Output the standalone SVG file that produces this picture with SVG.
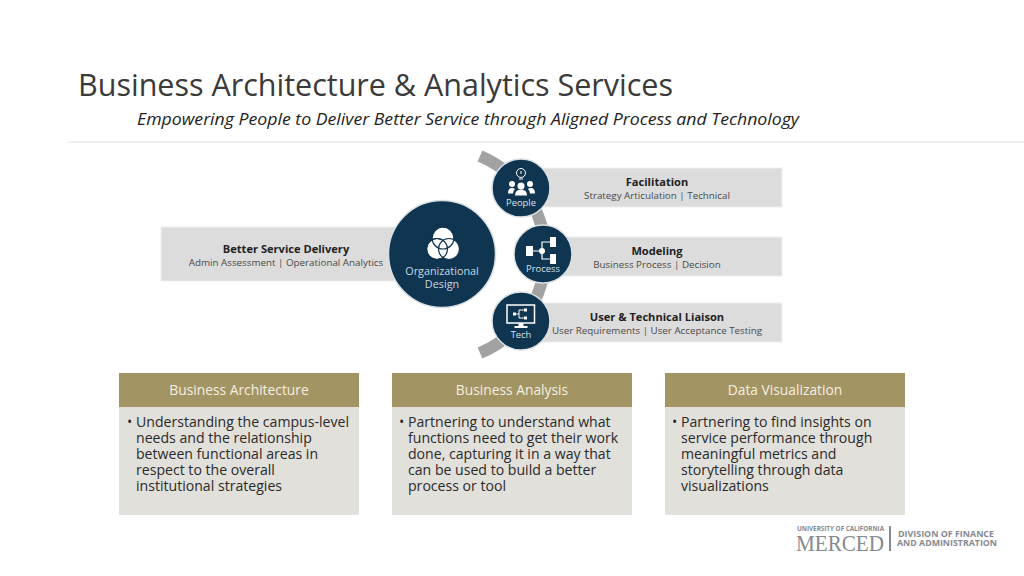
<svg xmlns="http://www.w3.org/2000/svg" width="1024" height="576" viewBox="0 0 1024 576">
<style>
text{font-family:"Open Sans","Noto Sans","Liberation Sans",sans-serif}
.band{fill:#dcdcdc;stroke:#efefef;stroke-width:1}
.dk{fill:#0f3550;stroke:#d9dfe3;stroke-width:1.5}
.ttl{font-size:11.1px;font-weight:700;fill:#222;text-anchor:middle}
.sub{font-size:9.8px;fill:#4a4a4a;text-anchor:middle}
.wl{font-size:9.4px;fill:#d5e2ea;text-anchor:middle}
.ol{font-size:10.8px;fill:#c9d9e3;text-anchor:middle}
.ic{fill:#fff;stroke:none}
.il{fill:none;stroke:#fff;stroke-width:1.5}
.hd{fill:#a39463}
.bd{fill:#e2e0da}
.ht{font-size:13.8px;fill:#f3efe2;text-anchor:middle}
.bt{font-size:14.1px;fill:#2a2a2a}
</style>
<rect width="1024" height="576" fill="#fff"/>
<text x="78" y="96" font-size="30.5" fill="#3a3a3a" textLength="595" lengthAdjust="spacingAndGlyphs">Business Architecture &amp; Analytics Services</text>
<text x="137" y="125" font-size="17" font-style="italic" fill="#222" textLength="662" lengthAdjust="spacingAndGlyphs">Empowering People to Deliver Better Service through Aligned Process and Technology</text>
<rect x="68" y="141" width="956" height="2" fill="#f0f0f0"/>

<g id="connectors">
<path d="M480 156A107 107 0 0 1 480 353" fill="none" stroke="#a2a2a2" stroke-width="12"/>
</g>

<g id="band-service"><rect class="band" x="161" y="227" width="250" height="54"/>
<text class="ttl" x="286" y="253">Better Service Delivery</text>
<text class="sub" x="286" y="266">Admin Assessment | Operational Analytics</text></g>
<g id="band-facilitation"><rect class="band" x="530" y="168" width="252" height="39"/>
<text class="ttl" x="657" y="186">Facilitation</text>
<text class="sub" x="657" y="199">Strategy Articulation | Technical</text></g>
<g id="band-modeling"><rect class="band" x="550" y="237" width="232" height="39"/>
<text class="ttl" x="657" y="255">Modeling</text>
<text class="sub" x="657" y="268">Business Process | Decision</text></g>
<g id="band-liaison"><rect class="band" x="530" y="303" width="252" height="39"/>
<text class="ttl" x="657" y="321">User &amp; Technical Liaison</text>
<text class="sub" x="657" y="334">User Requirements | User Acceptance Testing</text></g>

<g id="node-org"><circle class="dk" cx="442" cy="254" r="53.500"/>
<g fill="#fff" stroke="#0f3550" stroke-width="1.2"><circle cx="443" cy="238" r="11"/><circle cx="437" cy="249" r="10.500"/><circle cx="449" cy="249" r="10.500"/></g>
<g fill="none" stroke="#0f3550" stroke-width="1.2"><circle cx="443" cy="238" r="11"/><circle cx="437" cy="249" r="10.500"/></g>
<text class="ol" x="442" y="275">Organizational</text>
<text class="ol" x="442" y="288">Design</text></g>

<g id="node-people"><circle class="dk" cx="521" cy="188" r="29"/>
<circle cx="521" cy="173" r="4.500" fill="none" stroke="#fff" stroke-width="1"/>
<path d="M519 179h4M521 171v3" stroke="#fff" stroke-width="1" fill="none"/>
<g class="ic"><circle cx="521" cy="186" r="3.500"/><circle cx="512" cy="184" r="3"/><circle cx="530" cy="184" r="3"/>
<path d="M515 195.500q0-6 6-6t6 6zM508 193.500q0-5.500 4-5.500 2 0 3 1-2 2-2 4.500zM535 193.500q0-5.500-4-5.500-2 0-3 1 2 2 2 4.500z"/></g>
<text class="wl" x="521" y="206">People</text></g>

<g id="node-process"><circle class="dk" cx="543" cy="254" r="29"/>
<g class="ic"><rect x="526" y="246" width="7" height="10"/><rect x="550" y="237" width="6" height="10"/><rect x="550" y="254" width="6" height="10"/><circle cx="542" cy="251" r="3"/></g>
<path class="il" d="M533 251h9M542 251v-9h8M542 251v8h8" style="stroke-width:1.200"/>
<text class="wl" x="543" y="272">Process</text></g>

<g id="node-tech"><circle class="dk" cx="521" cy="321" r="29"/>
<rect x="507" y="305" width="27.500" height="18" fill="none" stroke="#fff" stroke-width="1.500"/>
<path class="ic" d="M518.500 323h5v3h4v2h-13v-2h4z"/>
<path d="M514 314h5M519 314v-4h6M519 314v4h6" fill="none" stroke="#fff" stroke-width="1"/>
<rect class="ic" x="513" y="312.500" width="3" height="3"/><rect class="ic" x="524" y="308.500" width="3" height="3"/><rect class="ic" x="524" y="316.500" width="3" height="3"/>
<text class="wl" x="521" y="338">Tech</text></g>

<g id="card-architecture"><rect class="bd" x="119" y="407" width="240" height="108"/><rect class="hd" x="119" y="373" width="240" height="34"/>
<text class="ht" x="239" y="395">Business Architecture</text>
<text class="bt" x="127" y="427">•</text>
<text class="bt"><tspan x="136" y="427">Understanding the campus-level</tspan><tspan x="136" y="443">needs and the relationship</tspan><tspan x="136" y="459">between functional areas in</tspan><tspan x="136" y="475">respect to the overall</tspan><tspan x="136" y="491">institutional strategies</tspan></text></g>

<g id="card-analysis"><rect class="bd" x="392" y="407" width="240" height="108"/><rect class="hd" x="392" y="373" width="240" height="34"/>
<text class="ht" x="512" y="395">Business Analysis</text>
<text class="bt" x="399" y="427">•</text>
<text class="bt"><tspan x="408" y="427">Partnering to understand what</tspan><tspan x="408" y="443">functions need to get their work</tspan><tspan x="408" y="459">done, capturing it in a way that</tspan><tspan x="408" y="475">can be used to build a better</tspan><tspan x="408" y="491">process or tool</tspan></text></g>

<g id="card-visualization"><rect class="bd" x="665" y="407" width="240" height="108"/><rect class="hd" x="665" y="373" width="240" height="34"/>
<text class="ht" x="785" y="395">Data Visualization</text>
<text class="bt" x="672" y="427">•</text>
<text class="bt"><tspan x="681" y="427">Partnering to find insights on</tspan><tspan x="681" y="443">service performance through</tspan><tspan x="681" y="459">meaningful metrics and</tspan><tspan x="681" y="475">storytelling through data</tspan><tspan x="681" y="491">visualizations</tspan></text></g>

<g id="logo" fill="#858a91">
<text x="797" y="531" font-size="7" font-weight="700" textLength="87" lengthAdjust="spacingAndGlyphs">UNIVERSITY OF CALIFORNIA</text>
<text x="796" y="551" font-size="24" style="font-family:'Liberation Serif',serif" textLength="88" lengthAdjust="spacingAndGlyphs">MERCED</text>
<rect x="889" y="526" width="2" height="25"/>
<text x="898" y="537" font-size="8" font-weight="700" textLength="96" lengthAdjust="spacingAndGlyphs">DIVISION OF FINANCE</text>
<text x="897" y="546" font-size="8" font-weight="700" textLength="100" lengthAdjust="spacingAndGlyphs">AND ADMINISTRATION</text>
</g>
</svg>
